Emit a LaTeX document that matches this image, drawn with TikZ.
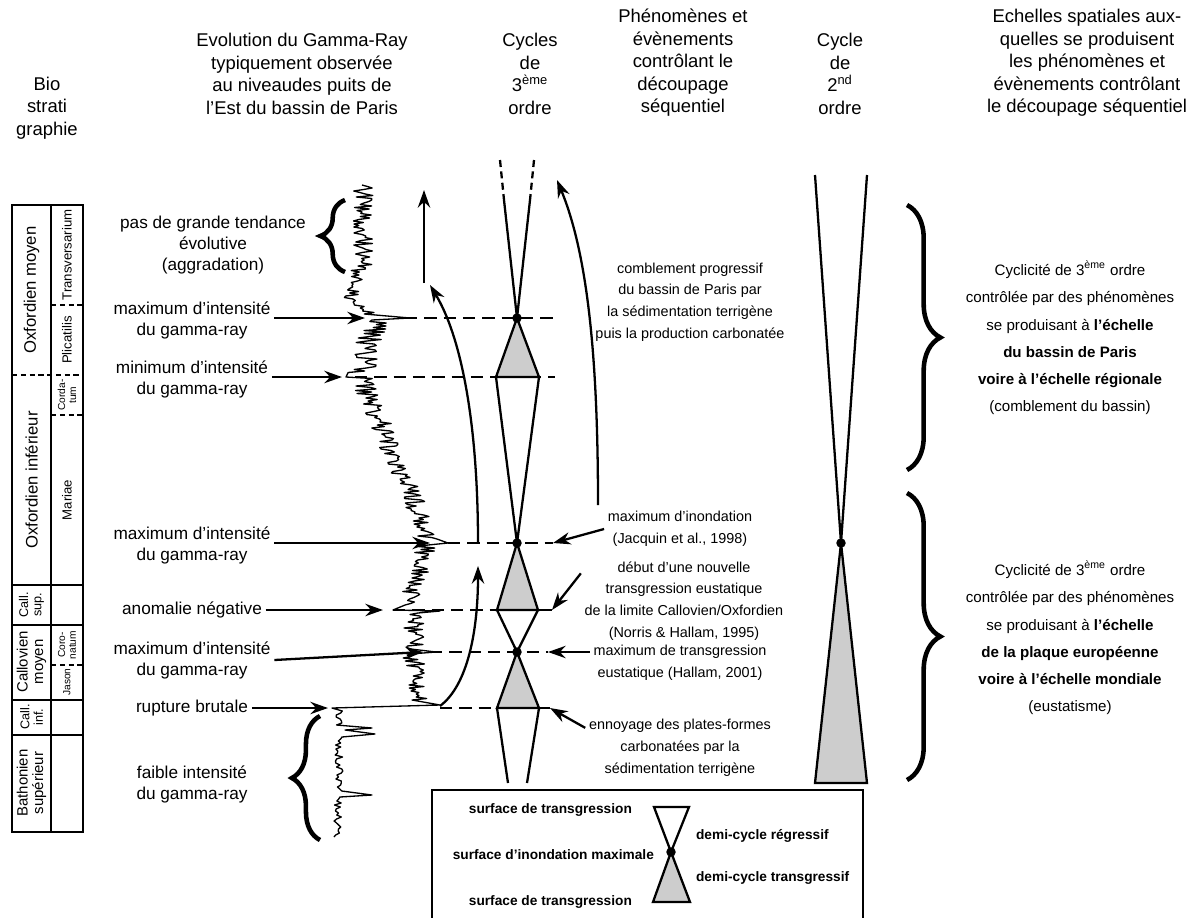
\documentclass[tikz,border=0pt]{standalone}
\usepackage{fontspec}
\setmainfont{Liberation Sans}
\usetikzlibrary{arrows.meta,positioning,calc,decorations.pathreplacing}
\definecolor{cyclegray}{RGB}{205,205,205}

\begin{document}
\begin{tikzpicture}[x=0.02cm, y=-0.02cm, >={Stealth[length=10pt,width=7pt]},
  head/.style={align=center, font=\fontsize{10.5}{12.8}\selectfont},
  lbl/.style={align=center, font=\fontsize{9.8}{11.9}\selectfont, inner sep=2pt},
  phen/.style={align=center, font=\fontsize{8.2}{12.4}\selectfont, inner sep=2pt},
  echl/.style={align=center, font=\fontsize{8.6}{15.5}\selectfont},
  lgd/.style={font=\bfseries\fontsize{7.8}{9}\selectfont, inner sep=1pt},
  stage/.style={rotate=90, align=center, font=\fontsize{9.5}{10}\selectfont, inner sep=0pt},
  zone/.style={rotate=90, align=center, font=\fontsize{7.5}{8}\selectfont, inner sep=0pt},
  arr/.style={->, line width=1.3pt},
  cyc/.style={line width=1.3pt, line join=miter},
  lvl/.style={line width=1pt, dash pattern=on 7pt off 4pt},
  brc/.style={decorate, line width=2.6pt},
  grline/.style={line width=0.75pt, line join=round}]

\useasboundingbox (0,0) rectangle (1200,917);

% headers
\node[head] (hbio) at (47,108) {Bio\\strati\\graphie};
\node[head] (hgr) at (302,74) {Evolution du Gamma-Ray\\typiquement observée\\au niveaudes puits de\\l'Est du bassin de Paris};
\node[head] (hc3) at (530,74) {Cycles\\de\\3\textsuperscript{ème}\\ordre};
\node[head] (hphen) at (683,63) {Phénomènes et\\évènements\\contrôlant le\\découpage\\séquentiel};
\node[head] (hc2) at (840,74) {Cycle\\de\\2\textsuperscript{nd}\\ordre};
\node[head] (hech) at (1087,63) {Echelles spatiales aux-\\quelles se produisent\\les phénomènes et\\évènements contrôlant\\le découpage séquentiel};

% biostratigraphie
\draw[line width=0.9pt] (12,205) rectangle (83,832);
\draw[line width=0.9pt] (51,205) -- (51,832);
\draw[line width=0.9pt] (12,585) -- (83,585) (12,625) -- (83,625) (12,700) -- (83,700) (12,735) -- (83,735);
\draw[line width=0.8pt, dash pattern=on 3pt off 2pt] (12,375) -- (83,375) (51,305) -- (83,305) (51,415) -- (83,415) (51,665) -- (83,665);
\node[stage] (sOxm) at (31.5,290) {Oxfordien moyen};
\node[stage] (sOxi) at (31.5,480) {Oxfordien inférieur};
\node[stage, font=\fontsize{7.2}{7.6}\selectfont] (sCs) at (31.5,605) {Call.\\sup.};
\node[stage, font=\fontsize{8.5}{8.8}\selectfont] (sCm) at (31.5,662) {Callovien\\moyen};
\node[stage, font=\fontsize{7.2}{7.6}\selectfont] (sCi) at (31.5,717) {Call.\\inf.};
\node[stage, font=\fontsize{8.5}{8.8}\selectfont] (sBs) at (31.5,783) {Bathonien\\supérieur};
\node[zone] (zTr) at (67,255) {Transversarium};
\node[zone] (zPl) at (67,340) {Plicatilis};
\node[zone, font=\fontsize{5.8}{6.2}\selectfont] (zCo) at (67,395) {Corda-\\tum};
\node[zone] (zMa) at (67,500) {Mariae};
\node[zone, font=\fontsize{5.8}{6.2}\selectfont] (zCr) at (67,645) {Coro-\\natum};
\node[zone, font=\fontsize{5.8}{6.2}\selectfont] (zJa) at (67,682) {Jason};

% niveaux
\draw[lvl] (405,318) -- (555,318);
\draw[lvl] (355,377) -- (555,377);
\draw[lvl] (448,543) -- (553,543);
\draw[lvl] (393,610) -- (497,610);
\draw[lvl] (430,652) -- (548,652);
\draw[lvl] (440,708) -- (497,708);

% gamma-ray
\pgfmathsetseed{12}
\draw[grline] (362,185)
  \foreach \yy in {186.5,188,...,269} { -- ({363+10*rand},\yy) }
  \foreach \yy in {270.5,272,...,299} { -- ({358-8*(\yy-271)/28+7*rand},\yy) }
  \foreach \yy in {300.5,302,...,315} { -- ({350+22*(\yy-301)/14+8*rand},\yy) }
  -- (410,318) -- (372,320)
  \foreach \yy in {321.5,323,...,373} { -- ({375-15*(\yy-322)/51+14*rand},\yy) }
  -- (346,377)
  \foreach \yy in {378.5,380,...,540} { -- ({362+68*(\yy-380)/160+11*rand},\yy) }
  -- (448,543) -- (428,545)
  \foreach \yy in {546.5,548,...,606} { -- ({426-18*(\yy-547)/59+10*rand},\yy) }
  -- (393,610) -- (440,611) -- (418,613)
  \foreach \yy in {614.5,616,...,649} { -- ({415+11*rand},\yy) }
  -- (436,652)
  \foreach \yy in {653.5,655,...,700} { -- ({412+8*(\yy-655)/45+11*rand},\yy) }
  -- (440,705) -- (332,708)
  \foreach \yy in {711,713,...,725} { -- ({340+4*rand},\yy) }
  -- (372,728) -- (345,730) -- (375,734) -- (342,737)
  \foreach \yy in {739,741,...,792} { -- ({339+4*rand},\yy) }
  -- (372,795) -- (340,797)
  \foreach \yy in {799,801,...,838} { -- ({338+4*rand},\yy) };

\draw[brc, decoration={brace, amplitude=14pt}] (345,272) -- (345,200);
\draw[brc, decoration={brace, amplitude=16pt}] (320,840) -- (320,716);

% labels gauche
\coordinate (tMax1) at (365,318);
\coordinate (tMin) at (342,377);
\coordinate (tMax2) at (430,543);
\coordinate (tAno) at (383,610);
\coordinate (tMax3) at (423,652);
\coordinate (tRup) at (328,708);
\node[lbl] (pasg) at (213,245) {pas de grande tendance\\évolutive\\(aggradation)};
\node[lbl] (max1) at (192,320) {maximum d'intensité\\du gamma-ray};
\node[lbl] (min1) at (192,379) {minimum d'intensité\\du gamma-ray};
\node[lbl] (max2) at (192,545) {maximum d'intensité\\du gamma-ray};
\node[lbl] (anom) at (192,610) {anomalie négative};
\node[lbl] (max3) at (192,660) {maximum d'intensité\\du gamma-ray};
\node[lbl] (rupt) at (192,708) {rupture brutale};
\node[lbl] (faib) at (192,784) {faible intensité\\du gamma-ray};
\draw[arr] (max1.east |- tMax1) -- (tMax1);
\draw[arr] (min1.east |- tMin) -- (tMin);
\draw[arr] (max2.east |- tMax2) -- (tMax2);
\draw[arr] (anom.east |- tAno) -- (tAno);
\draw[arr] (max3.east) -- (tMax3);
\draw[arr] (rupt.east |- tRup) -- (tRup);

% fleches d'evolution
\coordinate (v1a) at (424,283);
\coordinate (v1b) at (424,190);
\coordinate (c2a) at (440,706);
\coordinate (c2b) at (478,566);
\coordinate (c3a) at (478,543);
\coordinate (c3b) at (430,285);
\coordinate (c4a) at (598,505);
\coordinate (c4b) at (557,180);
\draw[arr] (v1a) -- (v1b);
\draw[arr] (c2a) .. controls (468,685) and (478,630) .. (c2b);
\draw[arr] (c3a) .. controls (478,430) and (463,340) .. (c3b);
\draw[arr] (c4a) .. controls (598,360) and (588,255) .. (c4b);

% cycles de 3eme ordre
\coordinate (t0l) at (500,160);
\coordinate (t0r) at (534,160);
\coordinate (t1l) at (504,200);
\coordinate (t1r) at (530,200);
\coordinate (m1) at (517,318);
\coordinate (b1l) at (496,377);
\coordinate (b1r) at (539,377);
\coordinate (m2) at (517,543);
\coordinate (b2l) at (497,610);
\coordinate (b2r) at (538,610);
\coordinate (m3) at (517,652);
\coordinate (b3l) at (497,708);
\coordinate (b3r) at (539,708);
\coordinate (e3l) at (508,783);
\coordinate (e3r) at (527,783);
\draw[cyc, dash pattern=on 4pt off 2.5pt] (t0l) -- (t1l) (t0r) -- (t1r);
\draw[cyc] (t1l) -- (m1) -- (t1r);
\filldraw[cyc, fill=cyclegray] (m1) -- (b1l) -- (b1r) -- cycle;
\draw[cyc] (b1l) -- (m2) -- (b1r);
\filldraw[cyc, fill=cyclegray] (m2) -- (b2l) -- (b2r) -- cycle;
\draw[cyc] (b2l) -- (m3) -- (b2r);
\filldraw[cyc, fill=cyclegray] (m3) -- (b3l) -- (b3r) -- cycle;
\draw[cyc] (b3l) -- (e3l) (b3r) -- (e3r);
\foreach \m in {m1,m2,m3} \fill (\m) circle (2.7pt);

% phenomenes
\coordinate (tJac) at (553,543);
\coordinate (tDeb) at (552,610);
\coordinate (tHal) at (548,652);
\coordinate (tEnn) at (550,708);
\draw[cyc] (b2r) -- (tDeb) (b3r) -- (tEnn);
\node[phen] (comb) at (690,302) {comblement progressif\\du bassin de Paris par\\la sédimentation terrigène\\puis la production carbonatée};
\node[phen] (jac) at (680,529) {maximum d'inondation\\(Jacquin et al., 1998)};
\node[phen] (deb) at (684,601) {début d'une nouvelle\\transgression eustatique\\de la limite Callovien/Oxfordien\\(Norris \& Hallam, 1995)};
\node[phen] (hal) at (680,663) {maximum de transgression\\eustatique (Hallam, 2001)};
\node[phen] (enn) at (680,748) {ennoyage des plates-formes\\carbonatées par la\\sédimentation terrigène};
\draw[arr] (jac.west) -- (tJac);
\draw[arr] (deb.165) -- (tDeb);
\draw[arr] (hal.west |- tHal) -- (tHal);
\draw[arr] (enn.168) -- (tEnn);

% cycle de 2nd ordre
\coordinate (s0l) at (815,175);
\coordinate (s0r) at (867,175);
\coordinate (s1) at (841,543);
\coordinate (s2l) at (815,783);
\coordinate (s2r) at (867,783);
\draw[cyc] (s0l) -- (s1) -- (s0r);
\filldraw[cyc, fill=cyclegray] (s1) -- (s2l) -- (s2r) -- cycle;
\fill (s1) circle (2.7pt);

% echelles spatiales
\draw[brc, decoration={brace, amplitude=19pt}] (907,205) -- (907,470);
\draw[brc, decoration={brace, amplitude=19pt}] (907,493) -- (907,780);
\node[echl] (ech1) at (1070,338) {Cyclicité de 3\textsuperscript{ème} ordre\\contrôlée par des phénomènes\\se produisant à \textbf{l'échelle}\\\textbf{du bassin de Paris}\\\textbf{voire à l'échelle régionale}\\(comblement du bassin)};
\node[echl] (ech2) at (1070,638) {Cyclicité de 3\textsuperscript{ème} ordre\\contrôlée par des phénomènes\\se produisant à \textbf{l'échelle}\\\textbf{de la plaque européenne}\\\textbf{voire à l'échelle mondiale}\\(eustatisme)};

% legende
\draw[line width=1.1pt] (432,925) |- (863,790) -- (863,925);
\coordinate (lg0l) at (654,807);
\coordinate (lg0r) at (689,807);
\coordinate (lgm) at (671,852);
\coordinate (lg1l) at (653,902);
\coordinate (lg1r) at (690,902);
\draw[cyc] (lg0l) -- (lg0r) -- (lgm) -- cycle;
\filldraw[cyc, fill=cyclegray] (lgm) -- (lg1l) -- (lg1r) -- cycle;
\fill (lgm) circle (2.7pt);
\node[lgd, anchor=east] (lst1) at (634,810) {surface de transgression};
\node[lgd, anchor=east] (lsim) at (656,855) {surface d'inondation maximale};
\node[lgd, anchor=east] (lst2) at (634,902) {surface de transgression};
\node[lgd, anchor=west] (lreg) at (694,836) {demi-cycle régressif};
\node[lgd, anchor=west] (ltra) at (694,878) {demi-cycle transgressif};
\end{tikzpicture}
\end{document}
